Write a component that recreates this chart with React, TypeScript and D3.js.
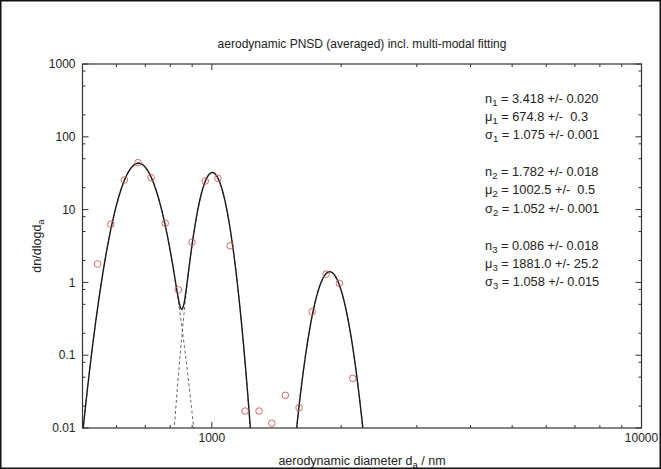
import React from "react";
import * as d3 from "d3";

// Measured data points (aerodynamic diameter in nm, dn/dlogda)
const diameters = [542, 582, 626, 673, 722, 779, 836, 899, 965, 1033, 1103, 1195, 1288, 1379, 1483, 1596, 1712, 1845, 1981, 2128];
const values = [1.79, 6.3, 25.5, 44.1, 27.4, 6.5, 0.79, 3.56, 24.7, 26.9, 3.19, 0.0171, 0.0171, 0.0116, 0.0281, 0.019, 0.396, 1.30, 0.97, 0.048];

// Fit parameters (shown in the chart)
const modeN = [3.418, 1.782, 0.086];
const modeMu = [674.8, 1002.5, 1881.0];
const modeSigma = [1.075, 1.052, 1.058];

const annotationLines = [
  ["n", "1", " = 3.418 +/- 0.020"],
  ["μ", "1", " = 674.8 +/-  0.3"],
  ["σ", "1", " = 1.075 +/- 0.001"],
  ["n", "2", " = 1.782 +/- 0.018"],
  ["μ", "2", " = 1002.5 +/-  0.5"],
  ["σ", "2", " = 1.052 +/- 0.001"],
  ["n", "3", " = 0.086 +/- 0.018"],
  ["μ", "3", " = 1881.0 +/- 25.2"],
  ["σ", "3", " = 1.058 +/- 0.015"],
];

const xMajorTicks = [1000, 10000];
const xMinorTicks = [600, 700, 800, 900, 2000, 3000, 4000, 5000, 6000, 7000, 8000, 9000];
const yMajorTicks = [0.01, 0.1, 1, 10, 100, 1000];
const yMinorMult = [2, 5, 8];

const W = 661;
const H = 469;
const FONT = "'Liberation Sans', Arial, Helvetica, sans-serif";

function mode(d: number, i: number) {
  const ls = Math.log10(modeSigma[i]);
  const z = (Math.log10(d) - Math.log10(modeMu[i])) / ls;
  return (modeN[i] / (Math.sqrt(2 * Math.PI) * ls)) * Math.exp(-0.5 * z * z);
}

export default function App() {
  const left = 82.5, right = 641.5, top = 64, bottom = 428;
  const x = d3.scaleLog().domain([500, 10000]).range([left, right]);
  const y = d3.scaleLog().domain([0.01, 1000]).range([bottom, top]);

  const samples = d3.range(0, 1201).map((k) => 500 * Math.pow(20, k / 1200));
  const line = d3
    .line<[number, number]>()
    .x((p) => x(p[0]))
    .y((p) => y(Math.max(p[1], 1e-4)));

  const sumPath = line(samples.map((d) => [d, mode(d, 0) + mode(d, 1) + mode(d, 2)] as [number, number]));
  const modePaths = [0, 1, 2].map((i) => line(samples.map((d) => [d, mode(d, i)] as [number, number])));

  const yMinor: number[] = [];
  yMajorTicks.slice(0, -1).forEach((t) => yMinorMult.forEach((m) => yMinor.push(t * m)));

  const axisColor = "#333";
  const textColor = "#222";

  const annTop = 98.3;
  const annStep = 18.3;
  const groupGap = 18.5;

  return (
    <svg
      width={W}
      height={H}
      style={{ position: "absolute", left: 0, top: 0, background: "#fff" }}
      fontFamily={FONT}
    >
      <rect x={0} y={0} width={W} height={H} fill="#fff" />
      <rect x={0.75} y={0.75} width={W - 1.5} height={H - 1.5} fill="none" stroke="#111" strokeWidth={1.5} />
      <defs>
        <clipPath id="plotclip">
          <rect x={left} y={top} width={right - left} height={bottom - top} />
        </clipPath>
      </defs>

      {/* Title */}
      <text x={(left + right) / 2} y={48} textAnchor="middle" fontSize={12} fill={textColor}>
        aerodynamic PNSD (averaged) incl. multi-modal fitting
      </text>

      {/* ticks */}
      <g stroke={axisColor} strokeWidth={1}>
        {xMajorTicks.map((t) => (
          <g key={"xm" + t}>
            <line x1={x(t)} x2={x(t)} y1={bottom} y2={bottom - 6} />
            <line x1={x(t)} x2={x(t)} y1={top} y2={top + 6} />
          </g>
        ))}
        {xMinorTicks.map((t) => (
          <g key={"xn" + t}>
            <line x1={x(t)} x2={x(t)} y1={bottom} y2={bottom - 3} />
            <line x1={x(t)} x2={x(t)} y1={top} y2={top + 3} />
          </g>
        ))}
        {yMajorTicks.map((t) => (
          <g key={"ym" + t}>
            <line x1={left} x2={left + 6} y1={y(t)} y2={y(t)} />
            <line x1={right} x2={right - 6} y1={y(t)} y2={y(t)} />
          </g>
        ))}
        {yMinor.map((t) => (
          <g key={"yn" + t}>
            <line x1={left} x2={left + 3} y1={y(t)} y2={y(t)} />
            <line x1={right} x2={right - 3} y1={y(t)} y2={y(t)} />
          </g>
        ))}
      </g>

      {/* tick labels */}
      <g fontSize={12} fill={textColor}>
        {yMajorTicks.map((t) => (
          <text key={"yl" + t} x={left - 7} y={y(t)} dy="0.35em" textAnchor="end">
            {String(t)}
          </text>
        ))}
        {xMajorTicks.map((t) => (
          <text key={"xl" + t} x={x(t)} y={bottom + 14} textAnchor="middle">
            {String(t)}
          </text>
        ))}
      </g>

      {/* axis labels */}
      <text x={(left + right) / 2} y={465} textAnchor="middle" fontSize={12.5} fill={textColor}>
        aerodynamic diameter d<tspan fontSize={9.5} dy={3}>a</tspan>
        <tspan dy={-3}> / nm</tspan>
      </text>
      <text
        transform={`translate(41, ${(top + bottom) / 2}) rotate(-90)`}
        textAnchor="middle"
        fontSize={12.5}
        fill={textColor}
      >
        dn/dlogd<tspan fontSize={9.5} dy={3}>a</tspan>
      </text>

      {/* curves */}
      <g clipPath="url(#plotclip)">
        {modePaths.map((p, i) => (
          <path key={"mp" + i} d={p || ""} fill="none" stroke="#555" strokeWidth={0.9} strokeDasharray="3,2.5" />
        ))}
        <path d={sumPath || ""} fill="none" stroke="#1a1a1a" strokeWidth={1.4} />
      </g>

      {/* data points */}
      <g fill="none" stroke="#cc5a5a" strokeWidth={0.9}>
        {diameters.map((d, i) => (
          <circle key={"c" + i} cx={x(d)} cy={y(values[i])} r={3.3} />
        ))}
      </g>

      {/* frame */}
      <rect x={left} y={top} width={right - left} height={bottom - top} fill="none" stroke={axisColor} strokeWidth={1.2} />

      {/* annotations */}
      <g fontSize={12.8} fill={textColor}>
        {annotationLines.map((l, i) => {
          const group = Math.floor(i / 3);
          const yy = annTop + i * annStep + group * groupGap;
          return (
            <text key={"a" + i} x={485} y={yy} dy="0.35em" style={{ whiteSpace: "pre" }}>
              {l[0]}
              <tspan fontSize={9.5} dy={3}>{l[1]}</tspan>
              <tspan dy={-3}>{l[2]}</tspan>
            </text>
          );
        })}
      </g>
    </svg>
  );
}
